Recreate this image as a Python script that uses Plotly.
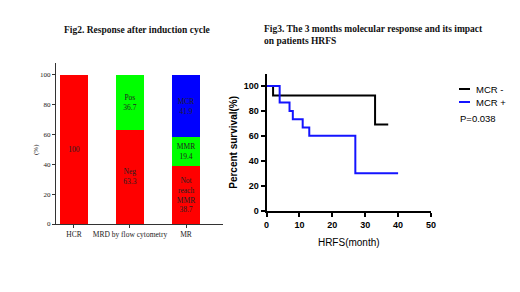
import plotly.graph_objects as go

# ---- Fig2 data ----
categories = ["HCR", "MRD by flow cytometry", "MR"]
red_vals = [100, 63.3, 38.7]
green_vals = [0, 36.7, 19.4]
blue_vals = [0, 0, 41.9]
red_text = ["100", "Neg<br>63.3", "Not<br>reach<br>MMR<br>38.7"]
green_text = ["", "Pos<br>36.7", "MMR<br>19.4"]
blue_text = ["", "", "MCR<br>41.9"]

# ---- Fig3 data (Kaplan-Meier steps) ----
mcr_neg_t = [0, 2, 2, 33, 33, 37]
mcr_neg_s = [100, 100, 92.3, 92.3, 69.2, 69.2]
mcr_pos_t = [0, 4, 4, 7, 7, 8, 8, 11, 11, 13, 13, 27, 27, 40]
mcr_pos_s = [100, 100, 86.7, 86.7, 80, 80, 73.3, 73.3, 66.7, 66.7, 60, 60, 30, 30]

fig = go.Figure()
serif = "Liberation Serif"
cell_font = dict(family=serif, size=7.5, color="#222222")

for vals, txt, col in [(red_vals, red_text, "#ff0000"),
                       (green_vals, green_text, "#00ff00"),
                       (blue_vals, blue_text, "#0000ff")]:
    fig.add_trace(go.Bar(x=categories, y=vals, text=txt, textposition="inside",
                         insidetextanchor="middle", textfont=cell_font,
                         marker=dict(color=col, line=dict(width=0)),
                         width=0.5, xaxis="x", yaxis="y", showlegend=False,
                         hoverinfo="skip", textangle=0))

fig.add_trace(go.Scatter(x=mcr_neg_t, y=mcr_neg_s, mode="lines",
                         line=dict(color="#000000", width=2),
                         xaxis="x2", yaxis="y2", showlegend=False))
fig.add_trace(go.Scatter(x=mcr_pos_t, y=mcr_pos_s, mode="lines",
                         line=dict(color="#1414ff", width=2),
                         xaxis="x2", yaxis="y2", showlegend=False))

W, H = 520, 292
def px(x): return x / W
def py(y): return 1 - y / H

fig.update_layout(
    width=W, height=H, margin=dict(l=0, r=0, t=0, b=0, autoexpand=False),
    paper_bgcolor="white", plot_bgcolor="white",
    barmode="stack", uniformtext=dict(minsize=6, mode="show"),
    xaxis=dict(domain=[px(56), px(223)], range=[-0.32, 2.66], showline=True,
               linecolor="#333333", linewidth=1, ticks="outside", ticklen=3,
               tickcolor="#333333", showgrid=False, zeroline=False, automargin=False,
               tickfont=dict(family=serif, size=7.5, color="#222222"),
               anchor="y"),
    yaxis=dict(domain=[py(224), py(63)], range=[0, 108], showline=True,
               linecolor="#333333", linewidth=1, ticks="outside", ticklen=3,
               tickcolor="#333333", showgrid=False, zeroline=False, dtick=20,
               automargin=False,
               tickfont=dict(family=serif, size=7, color="#222222"),
               anchor="x"),
    xaxis2=dict(domain=[px(266.5), px(431)], range=[0, 50], showline=True,
                linecolor="#000000", linewidth=2, ticks="outside", ticklen=4,
                tickwidth=2, tickcolor="#000000", showgrid=False, zeroline=False,
                automargin=False,
                dtick=10, tickfont=dict(family="Liberation Sans", size=9,
                                        color="#000000", weight="bold"),
                anchor="y2",
                title=dict(text="HRFS(month)", standoff=10,
                           font=dict(family="Liberation Sans", size=10, color="#000000"))),
    yaxis2=dict(domain=[py(210.7), py(74)], range=[0, 109.6], showline=True,
                linecolor="#000000", linewidth=2, ticks="outside", ticklen=4,
                tickwidth=2, tickcolor="#000000", showgrid=False, zeroline=False,
                automargin=False,
                dtick=20, tickfont=dict(family="Liberation Sans", size=9,
                                        color="#000000", weight="bold"),
                anchor="x2",
                title=dict(text="<b>Percent survival(%)</b>", standoff=4,
                           font=dict(family="Liberation Sans", size=10, color="#000000"))),
)

leg_font = dict(family="Liberation Sans", size=9.5, color="#000000")
annotations = [
    dict(text="<b>Fig2. Response after induction cycle</b>", x=px(137), y=py(30),
         xref="paper", yref="paper", showarrow=False, xanchor="center", yanchor="middle",
         font=dict(family=serif, size=9.5, color="#111111")),
    dict(text="<b>Fig3. The 3 months molecular response and its impact<br>on patients HRFS</b>",
         x=px(262), y=py(35.5), xref="paper", yref="paper", showarrow=False,
         xanchor="left", yanchor="middle", align="left",
         font=dict(family=serif, size=9.5, color="#111111")),
    dict(text="(%)", x=px(30), y=py(150), xref="paper", yref="paper", showarrow=False,
         textangle=-90, font=dict(family=serif, size=7, color="#222222")),
    dict(text="MCR -", x=px(474), y=py(89), xref="paper", yref="paper", showarrow=False,
         xanchor="left", yanchor="middle", font=leg_font),
    dict(text="MCR +", x=px(474), y=py(102), xref="paper", yref="paper", showarrow=False,
         xanchor="left", yanchor="middle", font=leg_font),
    dict(text="P=0.038", x=px(458), y=py(118), xref="paper", yref="paper", showarrow=False,
         xanchor="left", yanchor="middle", font=leg_font),
]
fig.update_layout(annotations=annotations)
fig.update_layout(shapes=[
    dict(type="line", xref="paper", yref="paper", x0=px(459), x1=px(470), y0=py(89), y1=py(89),
         line=dict(color="#000000", width=2)),
    dict(type="line", xref="paper", yref="paper", x0=px(459), x1=px(470), y0=py(102), y1=py(102),
         line=dict(color="#1414ff", width=2)),
])

fig.write_html("out.html", config={"displayModeBar": False},
               post_script="document.body.style.margin='0';")
